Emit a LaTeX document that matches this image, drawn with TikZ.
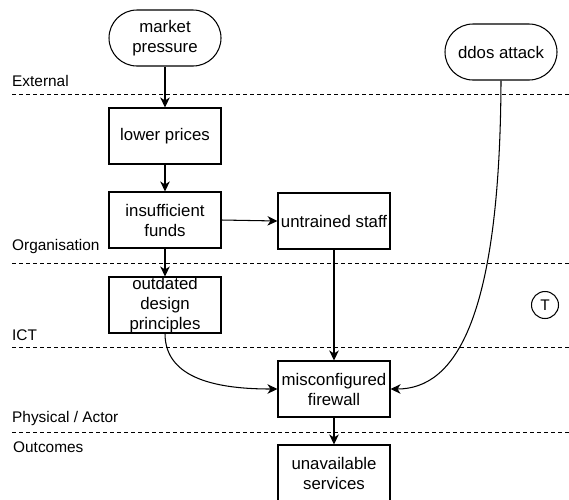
\documentclass[tikz,border=0pt]{standalone}
\usepackage{fontspec}
\setmainfont{Liberation Sans}
\usetikzlibrary{arrows.meta}
\begin{document}
\begin{tikzpicture}[x=1pt,y=-1pt,
  box/.style={draw,line width=1.05pt,fill=white,rectangle,minimum width=112pt,minimum height=56pt,inner sep=0pt,align=center,font=\fontsize{16.8}{20}\selectfont},
  term/.style={box,rounded corners=28pt},
  lane/.style={draw,line width=1pt,dash pattern=on 3.5pt off 3.5pt},
  lanelabel/.style={anchor=west,inner sep=0pt,font=\fontsize{15.4}{18}\selectfont},
  arr/.style={draw,line width=1.05pt,-{Stealth[length=10pt,width=9.5pt,inset=3pt]}}
]
\useasboundingbox (0,0) rectangle (569,499);
% lane separators
\coordinate (l1a) at (12,94);  \coordinate (l1b) at (569,94);
\coordinate (l2a) at (12,263); \coordinate (l2b) at (569,263);
\coordinate (l3a) at (12,347); \coordinate (l3b) at (569,347);
\coordinate (l4a) at (12,432); \coordinate (l4b) at (569,432);
\draw[lane] (l1a) -- (l1b);
\draw[lane] (l2a) -- (l2b);
\draw[lane] (l3a) -- (l3b);
\draw[lane] (l4a) -- (l4b);
% lane labels
\node[lanelabel] (lbExt) at (12,81) {External};
\node[lanelabel] (lbOrg) at (12,247) {Organisation};
\node[lanelabel] (lbIct) at (12,335) {ICT};
\node[lanelabel] (lbPhy) at (12,419) {Physical / Actor};
\node[lanelabel] (lbOut) at (13,447) {Outcomes};
% nodes
\node[term] (mp) at (165,38) {market\\pressure};
\node[term] (dd) at (501,52) {ddos attack};
\node[box] (lp) at (165,136) {lower prices};
\node[box] (if) at (165,220) {insufficient\\funds};
\node[box] (us) at (334,221) {untrained staff};
\node[box] (od) at (165,305) {outdated\\design\\principles};
\node[box] (mf) at (334,389) {misconfigured\\firewall};
\node[box] (un) at (334,473) {unavailable\\services};
\node[draw,circle,line width=1.05pt,minimum size=27pt,inner sep=0pt,font=\fontsize{15.4}{18}\selectfont] (tt) at (545,305) {T};
% connectors
\draw[arr] (mp.south) -- (lp.north);
\draw[arr] (lp.south) -- (if.north);
\draw[arr] (if.east) -- (us.west);
\draw[arr] (if.south) -- (od.north);
\draw[arr] (us.south) -- (mf.north);
\draw[arr] (mf.south) -- (un.north);
\draw[arr] (od.south) .. controls (165,380) and (220,389) .. (mf.west);
\draw[arr] (dd.south) .. controls (500,320) and (455,389) .. (mf.east);
\end{tikzpicture}
\end{document}
